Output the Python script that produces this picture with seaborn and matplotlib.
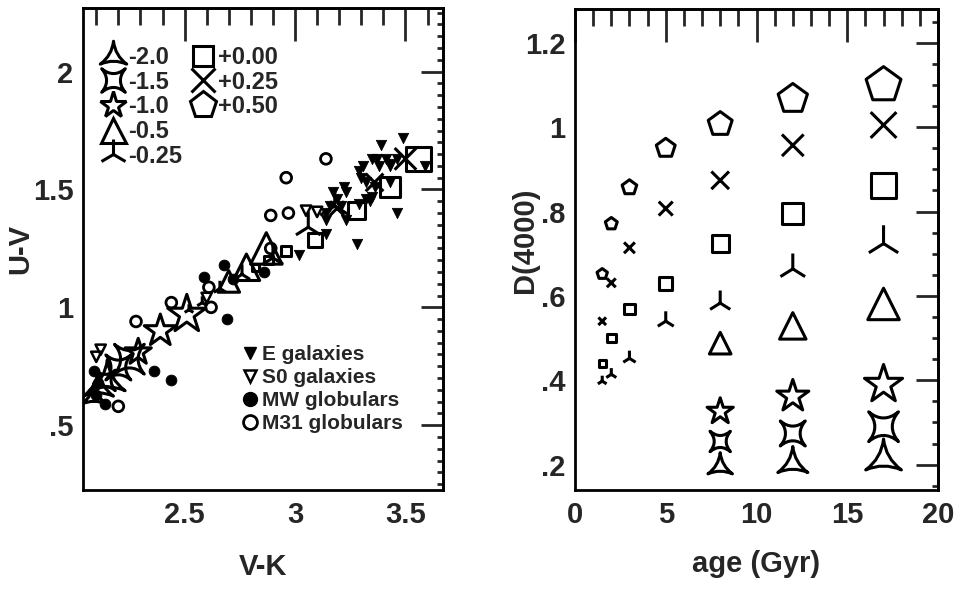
import numpy as np
import pandas as pd
import matplotlib
matplotlib.use("Agg")
import matplotlib.pyplot as plt
import seaborn as sns
from matplotlib.path import Path
from matplotlib.lines import Line2D
from matplotlib.ticker import MultipleLocator, FuncFormatter

# ---------------- data : left panel (observed colours) ----------------
e_vk = [3.02, 3.28, 3.46, 3.39, 3.49, 3.37, 3.41, 3.46, 3.38, 3.43, 3.59, 3.29, 3.30,
        3.32, 3.36, 3.43, 3.22, 3.23, 3.17, 3.19, 3.16, 3.14, 3.21, 3.23, 3.14, 3.32,
        3.35, 3.29, 3.34, 3.14, 3.43, 3.35, 3.31]
e_uv = [1.22, 1.27, 1.40, 1.69, 1.72, 1.63, 1.63, 1.63, 1.60, 1.60, 1.60, 1.58, 1.55,
        1.53, 1.51, 1.53, 1.51, 1.49, 1.49, 1.46, 1.43, 1.40, 1.43, 1.37, 1.37, 1.46,
        1.47, 1.44, 1.45, 1.31, 1.61, 1.63, 1.60]
s0_vk = [3.05, 3.10, 2.12, 2.10, 2.60]
s0_uv = [1.41, 1.405, 0.82, 0.79, 1.04]
mw_vk = [2.68, 2.59, 2.72, 2.86, 2.69, 2.36, 2.44, 2.14, 2.09, 2.11, 2.10]
mw_uv = [1.18, 1.13, 1.12, 1.15, 0.95, 0.73, 0.69, 0.59, 0.73, 0.68, 0.63]
m31_vk = [3.14, 2.96, 2.89, 2.97, 2.89, 2.61, 2.62, 2.44, 2.28, 2.20]
m31_uv = [1.63, 1.55, 1.39, 1.40, 1.25, 1.085, 1.00, 1.02, 0.94, 0.58]

# ---------------- model grid ----------------
feh_labels = ["-2.0", "-1.5", "-1.0", "-0.5", "-0.25", "+0.00", "+0.25", "+0.50"]
ages_all = [1.5, 2, 3, 5, 8, 12, 17]
ages_old = [8, 12, 17]

# D(4000) vs age (right panel)
d4_m20 = [0.195, 0.202, 0.212]
d4_m15 = [0.255, 0.274, 0.290]
d4_m10 = [0.326, 0.362, 0.390]
d4_m05 = [0.488, 0.529, 0.581]
d4_m025 = [0.398, 0.414, 0.452, 0.540, 0.583, 0.664, 0.724]
d4_p00 = [0.440, 0.500, 0.569, 0.629, 0.724, 0.795, 0.862]
d4_p025 = [0.540, 0.631, 0.714, 0.807, 0.874, 0.957, 1.005]
d4_p05 = [0.652, 0.771, 0.857, 0.950, 1.007, 1.067, 1.100]

# model colours (left panel)
vk_m20 = [2.09, 2.11, 2.15]
uv_m20 = [0.62, 0.66, 0.69]
vk_m15 = [2.14, 2.20, 2.25]
uv_m15 = [0.69, 0.745, 0.78]
vk_m10 = [2.29, 2.39, 2.51]
uv_m10 = [0.81, 0.90, 0.97]
vk_m05 = [2.70, 2.78, 2.87]
uv_m05 = [1.11, 1.17, 1.25]
vk_m025 = [2.52, 2.58, 2.66, 2.76, 2.90, 3.06, 3.18]
uv_m025 = [0.99, 1.02, 1.08, 1.14, 1.21, 1.34, 1.43]
vk_p00 = [2.82, 2.88, 2.96, 3.09, 3.28, 3.43, 3.56]
uv_p00 = [1.17, 1.20, 1.24, 1.285, 1.41, 1.51, 1.63]
ages_p025_left = [5, 8, 12]
vk_p025 = [3.19, 3.36, 3.50]
uv_p025 = [1.42, 1.53, 1.63]


def concave_star(n, rot, c):
    # star with curved (concave) sides, tips on the unit circle
    ang = np.deg2rad(rot + 360.0 * np.arange(n) / n)
    tips = np.c_[np.cos(ang), np.sin(ang)]
    verts = [tips[0]]
    codes = [Path.MOVETO]
    for i in range(n):
        mid = np.deg2rad(rot + 360.0 * (i + 0.5) / n)
        verts += [c * np.array([np.cos(mid), np.sin(mid)]), tips[(i + 1) % n]]
        codes += [Path.CURVE3, Path.CURVE3]
    verts.append(tips[0])
    codes.append(Path.CLOSEPOLY)
    return Path(verts, codes)


star3 = concave_star(3, 90, 0.12)
star4 = concave_star(4, 45, 0.12)

# marker, size factor (pt per sqrt(Gyr)), line art?
mstyle = {
    "-2.0": (star3, 7.2, False),
    "-1.5": (star4, 5.2, False),
    "-1.0": ("*", 7.0, False),
    "-0.5": ("^", 5.5, False),
    "-0.25": ("2", 6.4, True),
    "+0.00": ("s", 4.3, False),
    "+0.25": ("x", 4.5, True),
    "+0.50": ("p", 6.4, False),
}

sns.set_style("white")
plt.rcParams["font.family"] = ["Liberation Sans", "DejaVu Sans"]
plt.rcParams["font.weight"] = "bold"
plt.rcParams["axes.labelweight"] = "bold"

fig = plt.figure(figsize=(9.57, 5.89), dpi=100)
ax1 = fig.add_axes([83 / 957, 1 - 490 / 589, 360 / 957, 482 / 589])
ax2 = fig.add_axes([575 / 957, 1 - 490 / 589, 363 / 957, 481 / 589])


def model(ax, x, y, ages, key):
    mk, k, line = mstyle[key]
    s = (k * np.sqrt(np.array(ages, dtype=float))) ** 2
    if line:
        sns.scatterplot(x=x, y=y, marker=mk, s=s, color="k", linewidth=2.2, ax=ax,
                        legend=False, zorder=3)
    else:
        sns.scatterplot(x=x, y=y, marker=mk, s=s, facecolor="none", edgecolor="k",
                        linewidth=2.2, ax=ax, legend=False, zorder=3)


# ---- left panel ----
sns.scatterplot(x=e_vk, y=e_uv, marker="v", s=55, color="k", edgecolor="k", ax=ax1, zorder=4)
sns.scatterplot(x=s0_vk, y=s0_uv, marker="v", s=55, facecolor="none", edgecolor="k",
                linewidth=1.8, ax=ax1, zorder=4)
sns.scatterplot(x=mw_vk, y=mw_uv, marker="o", s=60, color="k", edgecolor="k", ax=ax1, zorder=4)
sns.scatterplot(x=m31_vk, y=m31_uv, marker="o", s=60, facecolor="none", edgecolor="k",
                linewidth=2, ax=ax1, zorder=4)
model(ax1, vk_m20, uv_m20, ages_old, "-2.0")
model(ax1, vk_m15, uv_m15, ages_old, "-1.5")
model(ax1, vk_m10, uv_m10, ages_old, "-1.0")
model(ax1, vk_m05, uv_m05, ages_old, "-0.5")
model(ax1, vk_m025, uv_m025, ages_all, "-0.25")
model(ax1, vk_p00, uv_p00, ages_all, "+0.00")
model(ax1, vk_p025, uv_p025, ages_p025_left, "+0.25")

# ---- right panel ----
model(ax2, ages_old, d4_m20, ages_old, "-2.0")
model(ax2, ages_old, d4_m15, ages_old, "-1.5")
model(ax2, ages_old, d4_m10, ages_old, "-1.0")
model(ax2, ages_old, d4_m05, ages_old, "-0.5")
model(ax2, ages_all, d4_m025, ages_all, "-0.25")
model(ax2, ages_all, d4_p00, ages_all, "+0.00")
model(ax2, ages_all, d4_p025, ages_all, "+0.25")
model(ax2, ages_all, d4_p05, ages_all, "+0.50")


def fmt(v, pos):
    s = f"{v:g}"
    if s.startswith("0."):
        s = s[1:]
    return s


def frame(ax, xlim, ylim, xmaj, xmin, ymaj, ymin):
    ax.set_xlim(*xlim)
    ax.set_ylim(*ylim)
    ax.xaxis.set_major_locator(MultipleLocator(xmaj))
    ax.xaxis.set_minor_locator(MultipleLocator(xmin))
    ax.yaxis.set_major_locator(MultipleLocator(ymaj))
    ax.yaxis.set_minor_locator(MultipleLocator(ymin))
    ax.xaxis.set_major_formatter(FuncFormatter(fmt))
    ax.yaxis.set_major_formatter(FuncFormatter(fmt))
    ax.tick_params(which="both", direction="in", width=2, labelsize=21, top=False, right=False)
    ax.tick_params(axis="x", which="major", length=10, pad=8)
    ax.tick_params(axis="x", which="minor", length=5)
    ax.tick_params(axis="y", which="major", length=10, pad=7)
    ax.tick_params(axis="y", which="minor", length=6)
    for sp in ax.spines.values():
        sp.set_linewidth(2)
        sp.set_color("k")
    top = ax.secondary_xaxis("top")
    top.xaxis.set_major_locator(MultipleLocator(xmaj))
    top.xaxis.set_minor_locator(MultipleLocator(xmin))
    top.tick_params(which="major", direction="in", length=24, width=2, labeltop=False)
    top.tick_params(which="minor", direction="in", length=12, width=2)
    top.spines["top"].set_linewidth(2)
    rgt = ax.secondary_yaxis("right")
    rgt.yaxis.set_major_locator(MultipleLocator(ymaj))
    rgt.yaxis.set_minor_locator(MultipleLocator(ymin))
    rgt.tick_params(which="major", direction="in", length=16, width=2, labelright=False)
    rgt.tick_params(which="minor", direction="in", length=4, width=2)
    rgt.spines["right"].set_linewidth(2)


frame(ax1, (2.04, 3.67), (0.225, 2.27), 0.5, 0.1, 0.5, 0.05)
frame(ax2, (0, 20), (0.14, 1.28), 5, 1, 0.2, 0.05)

ax1.set_xlabel("V-K", fontsize=21)
ax1.set_ylabel("U-V", fontsize=21)
ax2.set_xlabel("age (Gyr)", fontsize=21)
ax2.set_ylabel("D(4000)", fontsize=21)
ax1.xaxis.set_label_coords(0.5, -0.13)
ax2.xaxis.set_label_coords(0.5, -0.125)
ax1.yaxis.set_label_coords(-0.135, 0.5)
ax2.yaxis.set_label_coords(-0.10, 0.52)


# ---- legends ----
def handle(key, ms):
    mk, k, line = mstyle[key]
    if line:
        return Line2D([], [], ls="none", marker=mk, color="k", markersize=ms, mew=2.2)
    return Line2D([], [], ls="none", marker=mk, mfc="none", mec="k", markersize=ms, mew=2.2)


leg_ms = {"-2.0": 22, "-1.5": 17, "-1.0": 20, "-0.5": 18, "-0.25": 21,
          "+0.00": 15, "+0.25": 17, "+0.50": 20}
lkw = dict(frameon=False, fontsize=17, handlelength=1.0, handletextpad=0.15,
           labelspacing=0.07, borderpad=0, borderaxespad=0, loc="upper left")
col1 = feh_labels[:5]
col2 = feh_labels[5:]
leg1 = ax1.legend([handle(k, leg_ms[k]) for k in col1], col1,
                  bbox_to_anchor=(0.05, 0.921), **lkw)
ax1.add_artist(leg1)
leg2 = ax1.legend([handle(k, leg_ms[k]) for k in col2], col2,
                  bbox_to_anchor=(0.30, 0.921), **lkw)
ax1.add_artist(leg2)

obs_h = [Line2D([], [], ls="none", marker="v", color="k", markersize=9),
         Line2D([], [], ls="none", marker="v", mfc="none", mec="k", mew=1.8, markersize=9),
         Line2D([], [], ls="none", marker="o", color="k", markersize=10),
         Line2D([], [], ls="none", marker="o", mfc="none", mec="k", mew=2, markersize=10)]
obs_l = ["E galaxies", "S0 galaxies", "MW globulars", "M31 globulars"]
ax1.legend(obs_h, obs_l, frameon=False, fontsize=15, handlelength=0.6, handletextpad=0.28,
           labelspacing=0.19, borderpad=0, borderaxespad=0, loc="upper left",
           bbox_to_anchor=(0.446, 0.30))

fig.savefig("out.png", dpi=100)
